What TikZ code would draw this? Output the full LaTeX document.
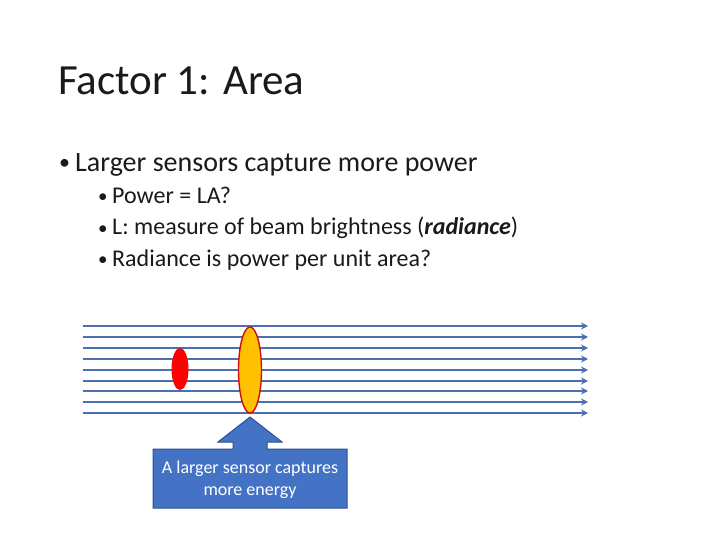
\documentclass[tikz,border=0pt]{standalone}
\usepackage{fontspec}
\setmainfont{Carlito}
\usetikzlibrary{shapes.geometric,arrows.meta}
\definecolor{beamblue}{HTML}{4A70B0}
\definecolor{boxblue}{HTML}{4472C4}
\definecolor{boxedge}{HTML}{2F528F}
\definecolor{sensorred}{HTML}{FF0000}
\definecolor{sensororange}{HTML}{FFC000}
\definecolor{rimred}{HTML}{D01010}
\definecolor{txt}{HTML}{1A1A1A}
\tikzset{
  beam/.style={draw=beamblue, line width=1.6pt, -{Stealth[length=7pt,width=7pt]}},
  txtnode/.style={anchor=base west, inner sep=0pt, text=txt},
}
\begin{document}
\begin{tikzpicture}[x=1pt,y=-1pt]
\useasboundingbox (0,0) rectangle (720,540);
\fill[white] (0,0) rectangle (720,540);
% title
\node[txtnode, font=\fontsize{43}{50}\selectfont] (title) at (58,95) {Factor 1: Area};
% bullets
\node[txtnode, font=\fontsize{22}{32}\selectfont] (b1) at (59,170) {•};
\node[txtnode, font=\fontsize{28}{32}\selectfont] (b1t) at (75,172) {Larger sensors capture more power};
\node[txtnode, font=\fontsize{19}{20}\selectfont] (s1) at (98,203) {•};
\node[txtnode, font=\fontsize{24}{24}\selectfont] (s1t) at (112,204) {Power = LA?};
\node[txtnode, font=\fontsize{19}{20}\selectfont] (s2) at (98,234) {•};
\node[txtnode, font=\fontsize{24}{24}\selectfont] (s2t) at (112,235) {L: measure of beam brightness (\textbf{\textit{radiance}})};
\node[txtnode, font=\fontsize{19}{20}\selectfont] (s3) at (98,265) {•};
\node[txtnode, font=\fontsize{24}{24}\selectfont] (s3t) at (112,266) {Radiance is power per unit area?};
% beams
\foreach \i/\y in {1/326,2/337,3/348,4/359,5/370,6/381,7/391,8/402,9/413}{
  \coordinate (L\i) at (83,\y);
  \coordinate (R\i) at (588,\y);
  \draw[beam] (L\i) -- (R\i);
}
% sensors
\node[ellipse, fill=sensorred, draw=none, minimum width=17, minimum height=42, inner sep=0] (small) at (180,369) {};
\node[ellipse, fill=sensororange, draw=rimred, line width=1.4pt, minimum width=23, minimum height=86, inner sep=0] (large) at (250,370) {};
% callout
\fill[boxblue, draw=boxedge, line width=1pt]
  (153,449) -- (233,449) -- (233,442) -- (218,442) -- (250,417) -- (282,442) -- (267,442) -- (267,449)
  -- (347,449) -- (347,508) -- (153,508) -- cycle;
\node[align=center, text=white, font=\fontsize{18}{22}\selectfont, inner sep=0pt] (callout) at (250,480) {A larger sensor captures\\more energy};
\end{tikzpicture}
\end{document}
